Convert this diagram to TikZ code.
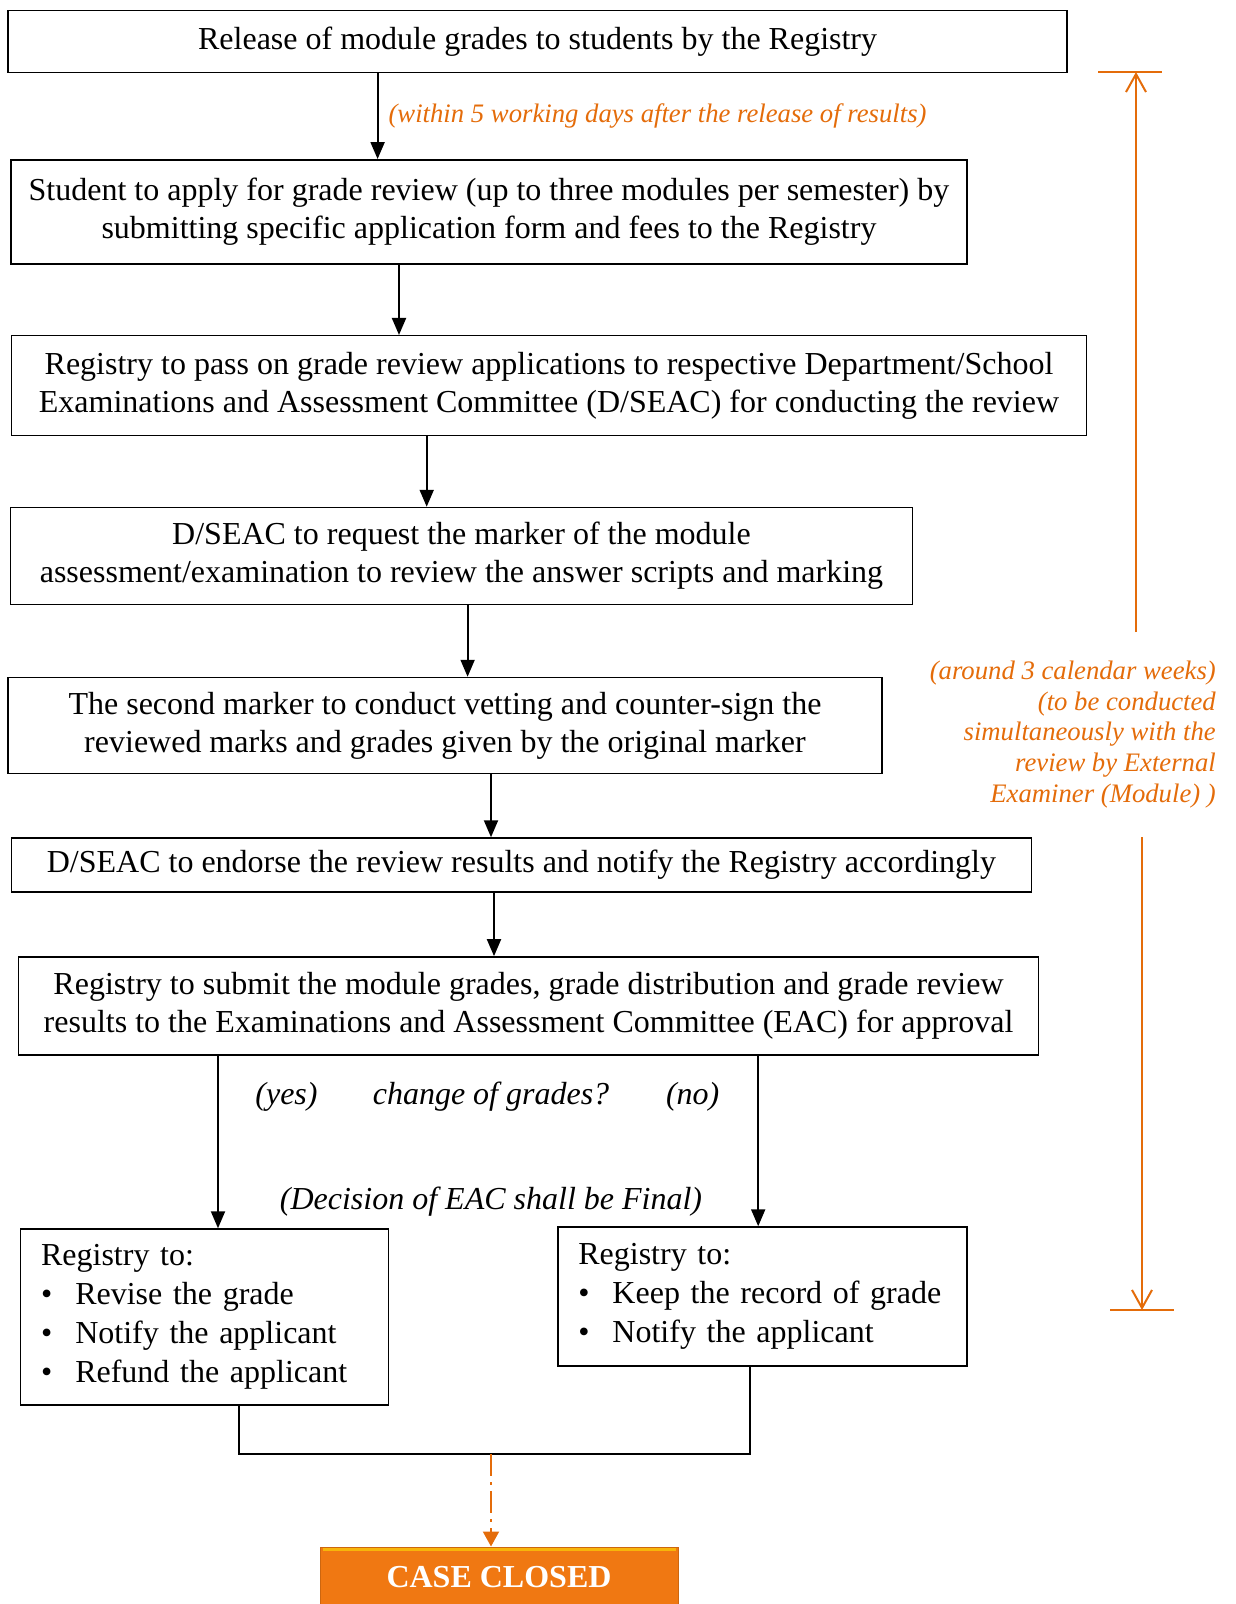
\documentclass[tikz,border=0pt]{standalone}
\usepackage{fontspec}
\setmainfont{Liberation Serif}
\usetikzlibrary{arrows.meta}
\definecolor{dorange}{RGB}{228,108,10}
\definecolor{corange}{RGB}{240,120,18}
\newcommand{\listdot}{\textbullet\hspace{23pt}}

\begin{document}
\begin{tikzpicture}[x=1pt,y=-1pt,
    stage/.style={draw, line width=1.5pt, align=center, inner sep=0pt, font=\fontsize{32}{38}\selectfont},
    listbox/.style={draw, line width=1.5pt, align=left, inner xsep=20.5pt, inner ysep=0pt, font=\fontsize{32}{38.9}\selectfont},
    flow/.style={line width=2pt, -{Triangle[length=17pt,width=14pt]}},
    note/.style={text=dorange, font=\fontsize{26.7}{30.7}\selectfont\itshape},
    remark/.style={font=\fontsize{32}{38}\selectfont\itshape},
    span/.style={dorange, line width=2pt},
    tick/.style={span, -{Straight Barb[length=18pt,width=20pt]}}]
  \useasboundingbox (0,0) rectangle (1235,1604);

  \node[stage, minimum width=1059pt, minimum height=62pt] (release) at (537.6,41.5)
    {Release of module grades to students by the Registry};
  \node[stage, minimum width=956pt, minimum height=104pt] (apply) at (489,211.8)
    {Student to apply for grade review (up to three modules per semester) by\\
     submitting specific application form and fees to the Registry};
  \node[stage, minimum width=1075pt, minimum height=100pt] (pass) at (549,385.7)
    {Registry to pass on grade review applications to respective Department/School\\
     Examinations and Assessment Committee (D/SEAC) for conducting the review};
  \node[stage, minimum width=902pt, minimum height=97pt] (request) at (461.5,556)
    {D/SEAC to request the marker of the module\\
     assessment/examination to review the answer scripts and marking};
  \node[stage, minimum width=874pt, minimum height=96pt] (vet) at (445,725.5)
    {The second marker to conduct vetting and counter-sign the\\
     reviewed marks and grades given by the original marker};
  \node[stage, minimum width=1020pt, minimum height=54pt] (endorse) at (521.4,865)
    {D/SEAC to endorse the review results and notify the Registry accordingly};
  \node[stage, minimum width=1020pt, minimum height=98pt] (submit) at (528.5,1005.9)
    {Registry to submit the module grades, grade distribution and grade review\\
     results to the Examinations and Assessment Committee (EAC) for approval};
  \node[listbox, text width=327pt, minimum height=176pt] (revise) at (204.6,1317)
    {Registry to:\\ \listdot Revise the grade\\ \listdot Notify the applicant\\ \listdot Refund the applicant};
  \node[listbox, text width=368pt, minimum height=139pt] (keep) at (762.3,1296.5)
    {Registry to:\\ \listdot Keep the record of grade\\ \listdot Notify the applicant};
  \node[fill=corange, draw=corange!85!black, line width=1pt, minimum width=358pt, minimum height=60pt,
        text=white, font=\fontsize{32}{38}\selectfont\bfseries] (closed) at (499,1577) {CASE CLOSED};
  \draw[corange!55!yellow, line width=3pt] ([xshift=3pt,yshift=-2.5pt]closed.north west) -- ([xshift=-3pt,yshift=-2.5pt]closed.north east);

  \draw[flow] (release.south -| 377.6,0) -- node[note, right, inner xsep=10pt] (within)
    {(within 5 working days after the release of results)} (apply.north -| 377.6,0);
  \draw[flow] (apply.south -| 399,0) -- (pass.north -| 399,0);
  \draw[flow] (pass.south -| 426.7,0) -- (request.north -| 426.7,0);
  \draw[flow] (request.south -| 467.6,0) -- (vet.north -| 467.6,0);
  \draw[flow] (vet.south -| 491,0) -- (endorse.north -| 491,0);
  \draw[flow] (endorse.south -| 494,0) -- (submit.north -| 494,0);
  \draw[flow] (submit.south -| 218,0) -- (revise.north -| 218,0);
  \draw[flow] (submit.south -| 758.2,0) -- (keep.north -| 758.2,0);

  \node[remark] (yes) at (286.5,1097) {(yes)};
  \node[remark] (question) at (491,1097) {change of grades?};
  \node[remark] (no) at (692.7,1097) {(no)};
  \node[remark] (final) at (491,1202) {(Decision of EAC shall be Final)};

  \coordinate (merge) at (491,1454);
  \draw[line width=2pt] (revise.south -| 239.4,0) |- (merge) -| (keep.south -| 750,0);
  \draw[span, dash pattern=on 22pt off 6pt on 3pt off 6pt, -{Triangle[length=15pt,width=16pt]}]
    (merge) -- (closed.north -| merge);

  \coordinate (topl) at (1098,72);
  \coordinate (topr) at (1162,72);
  \coordinate (top) at (1136,72);
  \coordinate (upfrom) at (1136,632);
  \coordinate (downfrom) at (1142,837);
  \coordinate (bot) at (1142,1310);
  \coordinate (botl) at (1110,1310);
  \coordinate (botr) at (1174,1310);
  \draw[span] (topl) -- (topr);
  \draw[tick] (upfrom) -- (top);
  \draw[span] (botl) -- (botr);
  \draw[tick] (downfrom) -- (bot);
  \node[note, align=right, anchor=east, inner sep=0pt] (weeks) at (1216,734.5)
    {(around 3 calendar weeks)\\ (to be conducted\\ simultaneously with the\\ review by External\\ Examiner (Module) )};
\end{tikzpicture}
\end{document}
